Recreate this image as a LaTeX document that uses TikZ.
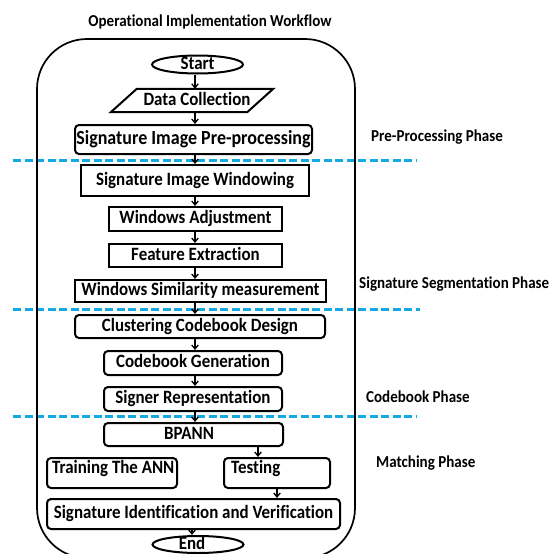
\documentclass[tikz,border=0pt]{standalone}
\usepackage{fontspec}
\setmainfont{Carlito}[FakeStretch=0.9, Ligatures=NoCommon]
\usetikzlibrary{shapes.geometric,arrows.meta}
\definecolor{phaseblue}{RGB}{20,168,228}
\begin{document}
\begin{tikzpicture}[x=1pt,y=-1pt,
  boxtext/.style={font=\bfseries\fontsize{18.8}{20}\selectfont, text height=13pt, text depth=3.8pt},
  plainbox/.style={draw, line width=2pt, inner sep=0pt, boxtext},
  roundbox/.style={plainbox, rounded corners=4pt},
  oval/.style={ellipse, draw, line width=2pt, inner sep=0pt, boxtext, text height=10pt, text depth=1pt, minimum width=91pt, minimum height=18pt},
  arr/.style={-{Straight Barb[length=4pt,width=6.5pt,line width=1.3pt]}, line width=1.5pt},
  phase/.style={anchor=west, inner sep=0pt, font=\bfseries\fontsize{16.7}{18}\selectfont},
  phasesep/.style={draw=phaseblue, line width=3pt, dash pattern=on 8pt off 3.5pt}]
\useasboundingbox (0,0) rectangle (552,554);

% phase separators
\coordinate (sepL1) at (13,160);  \coordinate (sepR1) at (417,160);
\coordinate (sepL2) at (13,309);  \coordinate (sepR2) at (420,309);
\coordinate (sepL3) at (13,416);  \coordinate (sepR3) at (417,416);
\draw[phasesep] (sepL1) -- (sepR1);
\draw[phasesep] (sepL2) -- (sepR2);
\draw[phasesep] (sepL3) -- (sepR3);

% title and frame
\node[inner sep=0pt, font=\bfseries\fontsize{16.7}{18}\selectfont] (title) at (210,22) {Operational Implementation Workflow};
\node[draw, line width=1.7pt, rounded corners=50pt, minimum width=318pt, minimum height=519pt] (frame) at (196,298.5) {};

% flow nodes
\node[oval] (start) at (197.5,64.5) {Start};
\node[boxtext, inner sep=0pt, minimum width=136pt, minimum height=23pt] (data) at (192,100.5) {\hspace*{10pt}Data Collection};
\draw[line width=2pt] ([xshift=-13pt]data.south west) -- ([xshift=-13pt]data.south east)
  -- ([xshift=13pt]data.north east) -- ([xshift=13pt]data.north west) -- cycle;
\node[roundbox, minimum width=237pt, minimum height=29pt, font=\bfseries\fontsize{20}{21}\selectfont] (sip) at (193.5,139.5) {Signature Image Pre-processing};
\node[plainbox, minimum width=228pt, minimum height=31pt] (siw) at (195,180.5) {Signature Image Windowing};
\node[plainbox, minimum width=173pt, minimum height=24pt] (wa) at (195.5,219) {Windows Adjustment};
\node[plainbox, minimum width=173pt, minimum height=23pt] (fe) at (195.5,255.5) {Feature Extraction};
\node[plainbox, minimum width=251pt, minimum height=22pt] (wsm) at (200.5,291) {Windows Similarity measurement};
\node[roundbox, minimum width=250pt, minimum height=23pt] (ccd) at (200,326.5) {Clustering Codebook Design};
\node[roundbox, minimum width=178pt, minimum height=24pt] (cg) at (193,363) {Codebook Generation};
\node[roundbox, minimum width=178pt, minimum height=24pt] (sr) at (193,399) {Signer Representation};
\node[roundbox, minimum width=179pt, minimum height=23pt] (bpann) at (193.5,434.5) {BPANN\hspace*{9pt}};
\node[roundbox, minimum width=130pt, minimum height=30pt] (train) at (112,473) {};
\node[boxtext, anchor=west, inner sep=0pt] (traintext) at ([xshift=6pt,yshift=4pt]train.west) {Training The ANN};
\node[roundbox, minimum width=106pt, minimum height=30pt] (test) at (277,473) {};
\node[boxtext, anchor=west, inner sep=0pt] (testtext) at ([xshift=8pt,yshift=4pt]test.west) {Testing};
\node[roundbox, minimum width=293pt, minimum height=30pt] (siv) at (193.5,514) {Signature Identification and Verification};
\node[oval, minimum height=17pt] (end) at (198,544.5) {End\hspace*{12pt}};

% connectors
\coordinate (ax) at (195,0);
\coordinate (bx) at (258,0);
\coordinate (cx) at (277,0);
\coordinate (dx) at (192,0);
\draw[arr] (start.south -| ax) -- (data.north -| ax);
\draw[arr] (data.south -| ax) -- (sip.north -| ax);
\draw[arr] (sip.south -| ax) -- (siw.north -| ax);
\draw[arr] (siw.south -| ax) -- (wa.north -| ax);
\draw[arr] (wa.south -| ax) -- (fe.north -| ax);
\draw[arr] (fe.south -| ax) -- (wsm.north -| ax);
\draw[arr] (wsm.south -| ax) -- (ccd.north -| ax);
\draw[arr] (ccd.south -| ax) -- (cg.north -| ax);
\draw[arr] (cg.south -| ax) -- (sr.north -| ax);
\draw[arr] (sr.south -| ax) -- (bpann.north -| ax);
\draw[arr] (bpann.south -| bx) -- (test.north -| bx);
\draw[arr] (test.south -| cx) -- (siv.north -| cx);
\draw[arr] (siv.south -| dx) -- (end.north -| dx);

% phase labels
\node[phase] (p1) at (371,137) {Pre-Processing Phase};
\node[phase] (p2) at (359,284) {Signature Segmentation Phase};
\node[phase] (p3) at (366,397) {Codebook Phase};
\node[phase] (p4) at (376,463) {Matching Phase};
\end{tikzpicture}
\end{document}
